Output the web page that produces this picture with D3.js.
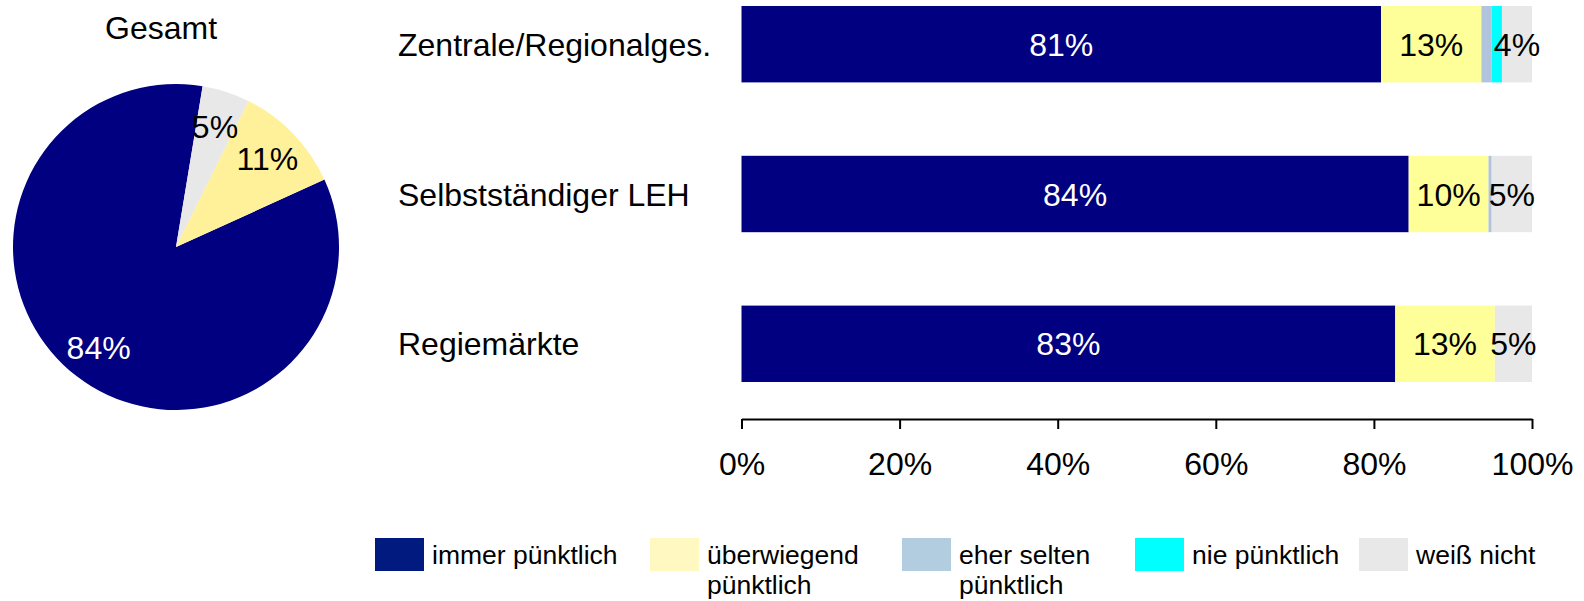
<!DOCTYPE html>
<html>
<head>
<meta charset="utf-8">
<script src="https://cdn.jsdelivr.net/npm/d3@7"></script>
<style>
  body { margin: 0; background: #fff; }
  svg text { font-family: "Liberation Sans", Arial, sans-serif; fill: #000; }
</style>
</head>
<body>
<svg id="chart" width="1584" height="601"></svg>
<script>
// categories + series (percent)
var categories = ["Zentrale/Regionalges.", "Selbstständiger LEH", "Regiemärkte"];
var seriesNames = ["immer pünktlich", "überwiegend pünktlich", "eher selten pünktlich", "nie pünktlich", "weiß nicht"];
var legendLines = [["immer pünktlich"], ["überwiegend", "pünktlich"], ["eher selten", "pünktlich"], ["nie pünktlich"], ["weiß nicht"]];
var immer = [80.9, 84.4, 82.7];
var ueberwiegend = [12.7, 10.1, 12.6];
var eherSelten = [1.3, 0.4, 0];
var nie = [1.3, 0, 0];
var weissNicht = [3.8, 5.1, 4.7];
var gesamt = [84.4, 10.9, 0, 0, 4.7];
var ticks = [0, 20, 40, 60, 80, 100];

var barColors = ["#000080", "#ffff99", "#b0c4de", "#00ffff", "#e8e8e8"];
var pieColors = ["#000080", "#fff199", "#b0c4de", "#00ffff", "#e8e8e8"];
var legendColors = ["#001a80", "#fff8c0", "#b3cde0", "#00ffff", "#e8e8e8"];

var svg = d3.select("#chart");
var fs = 32;

// ---- pie (drawn counter-clockwise) ----
var cx = 176, cy = 247, r = 163;
var a0 = 9.4 * Math.PI / 180;
var pie = d3.pie().sort(null).value(function(d){ return d; })
  .startAngle(a0).endAngle(a0 - 2 * Math.PI);
var arc = d3.arc().innerRadius(0).outerRadius(r);
var labelArc = d3.arc().innerRadius(r * 0.78).outerRadius(r * 0.78);

var pg = svg.append("g").attr("transform", "translate(" + cx + "," + cy + ")");
var arcs = pie(gesamt);
pg.selectAll("path").data(arcs).enter().append("path")
  .attr("d", arc)
  .attr("fill", function(d, i){ return pieColors[i]; });
pg.selectAll("text").data(arcs.filter(function(d){ return d.data >= 3; })).enter().append("text")
  .attr("transform", function(d){ return "translate(" + labelArc.centroid(d) + ")"; })
  .attr("text-anchor", "middle")
  .attr("dy", "0.36em")
  .style("font-size", fs + "px")
  .style("fill", function(d){ return d.index === 0 ? "#fff" : "#000"; })
  .text(function(d){ return Math.round(d.data) + "%"; });

svg.append("text").attr("x", 161).attr("y", 39).attr("text-anchor", "middle")
  .style("font-size", fs + "px").text("Gesamt");

// ---- stacked bars ----
var rows = categories.map(function(c, i){
  return { cat: c, vals: [immer[i], ueberwiegend[i], eherSelten[i], nie[i], weissNicht[i]] };
});
var x = d3.scaleLinear().domain([0, 100]).range([741.5, 1532]);
var y = d3.scaleBand().domain(categories).range([6, 382]).paddingInner(0.49).paddingOuter(0);

var stack = d3.stack().keys([0, 1, 2, 3, 4]).value(function(d, k){ return d.vals[k]; });
var layers = stack(rows);

var bg = svg.append("g");
layers.forEach(function(layer, k){
  bg.selectAll(".s" + k).data(layer).enter().append("rect")
    .attr("class", "s" + k)
    .attr("x", function(d){ return x(d[0]); })
    .attr("y", function(d){ return y(d.data.cat); })
    .attr("width", function(d){ return x(d[1]) - x(d[0]); })
    .attr("height", y.bandwidth())
    .attr("fill", barColors[k]);
  bg.selectAll(".t" + k).data(layer.filter(function(d){ return d[1] - d[0] >= 3; })).enter().append("text")
    .attr("x", function(d){ return (x(d[0]) + x(d[1])) / 2; })
    .attr("y", function(d){ return y(d.data.cat) + y.bandwidth() / 2; })
    .attr("dy", "0.36em")
    .attr("text-anchor", "middle")
    .style("font-size", fs + "px")
    .style("fill", k === 0 ? "#fff" : "#000")
    .text(function(d){ return Math.round(d[1] - d[0]) + "%"; });
});

svg.append("g").selectAll("text").data(categories).enter().append("text")
  .attr("x", 398)
  .attr("y", function(d){ return y(d) + y.bandwidth() / 2; })
  .attr("dy", "0.36em")
  .style("font-size", fs + "px")
  .text(function(d){ return d; });

// ---- axis ----
var ax = svg.append("g").attr("transform", "translate(0,419)")
  .call(d3.axisBottom(x).tickValues(ticks).tickFormat(function(d){ return d + "%"; })
    .tickSize(10).tickSizeOuter(0).tickPadding(23));
ax.select(".domain").attr("stroke", "#000").attr("stroke-width", 2);
ax.selectAll(".tick line").attr("stroke", "#000").attr("stroke-width", 2);
ax.selectAll(".tick text").style("font-size", fs + "px")
  .attr("font-family", null).attr("fill", "#000");

// ---- legend ----
var legX = [375, 650, 902, 1135, 1359];
var lg = svg.append("g").selectAll("g").data(seriesNames).enter().append("g")
  .attr("transform", function(d, i){ return "translate(" + legX[i] + ",538)"; });
lg.append("rect").attr("width", 49).attr("height", 33)
  .attr("fill", function(d, i){ return legendColors[i]; });
lg.append("text").attr("x", 57).attr("y", 26)
  .style("font-size", "26.5px")
  .each(function(d, i){
    var t = d3.select(this);
    legendLines[i].forEach(function(line, j){
      t.append("tspan").attr("x", 57).attr("dy", j === 0 ? 0 : 30).text(line);
    });
  });
</script>
</body>
</html>
